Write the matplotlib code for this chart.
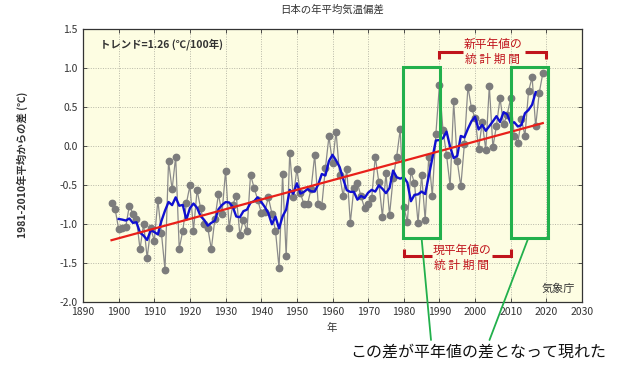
import numpy as np
import matplotlib
matplotlib.use("Agg")
import matplotlib.pyplot as plt
from matplotlib.patches import Rectangle, ConnectionPatch
from matplotlib.lines import Line2D

plt.rcParams['font.family'] = ['Noto Sans CJK JP', 'DejaVu Sans']

# ---- data ----
years = list(range(1898, 2020))
anomaly = [
    -0.73, -0.81,                                                   # 1898-1899
    -1.07, -1.05, -1.04, -0.77, -0.87, -0.94, -1.33, -1.00, -1.44, -1.06,  # 1900s
    -1.22, -0.70, -1.12, -1.59, -0.20, -0.56, -0.14, -1.32, -1.09, -0.74,  # 1910s
    -0.51, -1.09, -0.57, -0.80, -1.01, -1.05, -1.33, -0.94, -0.62, -0.87,  # 1920s
    -0.32, -1.05, -0.76, -0.64, -1.14, -0.95, -1.10, -0.37, -0.54, -0.69,  # 1930s
    -0.86, -0.85, -0.66, -0.87, -1.09, -1.57, -0.36, -1.42, -0.09, -0.66,  # 1940s
    -0.30, -0.61, -0.75, -0.75, -0.55, -0.12, -0.75, -0.77, -0.29, 0.12,   # 1950s
    -0.22, 0.18, -0.37, -0.65, -0.30, -0.99, -0.54, -0.48, -0.65, -0.80,   # 1960s
    -0.75, -0.67, -0.14, -0.47, -0.91, -0.35, -0.89, -0.42, -0.14, 0.21,   # 1970s
    -0.78, -0.98, -0.33, -0.48, -0.99, -0.37, -0.95, -0.15, -0.64, 0.15,   # 1980s
    0.78, 0.20, -0.12, -0.52, 0.57, -0.20, -0.52, 0.02, 0.76, 0.48,        # 1990s
    0.36, -0.04, 0.30, -0.05, 0.77, -0.02, 0.26, 0.61, 0.28, 0.40,         # 2000s
    0.61, 0.12, 0.04, 0.34, 0.13, 0.70, 0.88, 0.25, 0.68, 0.93,            # 2010s
]
x_ticks = list(range(1890, 2031, 10))
y_ticks = [1.5, 1.0, 0.5, 0.0, -0.5, -1.0, -1.5, -2.0]
y_ticklabels = ["1.5", "1.0", "0.5", "0.0", "-0.5", "-1.0", "-1.5", "-2.0"]

yrs = np.array(years)
vals = np.array(anomaly)

# 5-year running mean
rm = np.convolve(vals, np.ones(5) / 5, mode="valid")
rm_years = yrs[2:-2]
# linear trend
coef = np.polyfit(yrs, vals, 1)
trend = np.polyval(coef, yrs)

W, H = 630, 374
fig = plt.figure(figsize=(W / 100, H / 100), dpi=100)
ax = fig.add_axes([83 / W, 1 - 301.5 / H, (582 - 83) / W, (301.5 - 29) / H])
ax.set_facecolor("#fdfde2")

ax.set_xlim(1890, 2030)
ax.set_ylim(-2.0, 1.5)
ax.set_xticks(x_ticks)
ax.set_yticks(y_ticks)
ax.set_yticklabels(y_ticklabels)
ax.tick_params(direction="in", length=3, width=0.6, labelsize=7.5,
               colors="#333333", top=True, right=True, pad=4)
ax.grid(True, color="#b8b8a8", linestyle=(0, (1, 1.5)), linewidth=0.7)
for s in ax.spines.values():
    s.set_color("#333333")
    s.set_linewidth(0.9)

ax.plot(yrs, vals, color="#8a8a8a", linewidth=0.9, marker="o",
        markersize=4.6, markerfacecolor="#7c7c7c", markeredgecolor="#7c7c7c", zorder=3)
ax.plot(rm_years, rm, color="#1010d0", linewidth=1.7, zorder=4)
ax.plot(yrs, trend, color="#e8201a", linewidth=1.6, zorder=5)

ax.text(0.034, 0.945, "トレンド=1.26 (℃/100年)", transform=ax.transAxes,
        fontsize=7.5, color="#333333", va="center", ha="left", fontweight="bold")
ax.text(0.985, 0.045, "気象庁", transform=ax.transAxes, fontsize=8,
        color="#333333", ha="right", va="center")

# green boxes
green = "#22b04c"
ax.add_patch(Rectangle((1979.9, -1.19), 10.3, 2.2, fill=False, edgecolor=green,
                       linewidth=2.2, zorder=6))
ax.add_patch(Rectangle((2010.0, -1.19), 10.5, 2.2, fill=False, edgecolor=green,
                       linewidth=2.2, zorder=6))

# red brackets
red = "#c0141c"
def seg(xs, ys):
    ax.add_line(Line2D(xs, ys, color=red, linewidth=2.2, zorder=7,
                       solid_capstyle="butt", solid_joinstyle="miter", clip_on=False))

seg([1990, 1990, 1996.6], [1.12, 1.20, 1.20])
seg([2014.0, 2020, 2020], [1.20, 1.20, 1.12])
ax.text(2005.0, 1.30, "新平年値の", color=red, fontsize=8.5, ha="center", va="center", zorder=7)
ax.text(2005.0, 1.11, "統 計 期 間", color=red, fontsize=8.5, ha="center", va="center", zorder=7)

seg([1980, 1980, 1987.8], [-1.33, -1.42, -1.42])
seg([2004.7, 2010, 2010], [-1.42, -1.42, -1.33])
ax.text(1996.3, -1.34, "現平年値の", color=red, fontsize=8.5, ha="center", va="center", zorder=7)
ax.text(1996.3, -1.53, "統 計 期 間", color=red, fontsize=8.5, ha="center", va="center", zorder=7)

# green connector lines to bottom note
for xa, xb in [(1985.0, 431), (2014.9, 489.5)]:
    cp = ConnectionPatch(xyA=(xa, -1.19), coordsA="data", axesA=ax,
                         xyB=(xb, H - 340), coordsB="figure pixels",
                         color=green, linewidth=1.3, zorder=8)
    fig.add_artist(cp)

fig.text(478 / W, 1 - 352 / H, "この差が平年値の差となって現れた", fontsize=11.5,
         color="#111111", ha="center", va="center")

fig.text(332 / W, 1 - 10 / H, "日本の年平均気温偏差", fontsize=7.5, color="#333333",
         ha="center", va="center")
fig.text(332 / W, 1 - 328 / H, "年", fontsize=7.5, color="#333333", ha="center", va="center")
fig.text(22 / W, 1 - 165 / H, "1981-2010年平均からの差 (℃)", fontsize=7.5,
         color="#333333", rotation=90, ha="center", va="center", fontweight="bold")

fig.savefig("out.png", dpi=100, facecolor="white")
